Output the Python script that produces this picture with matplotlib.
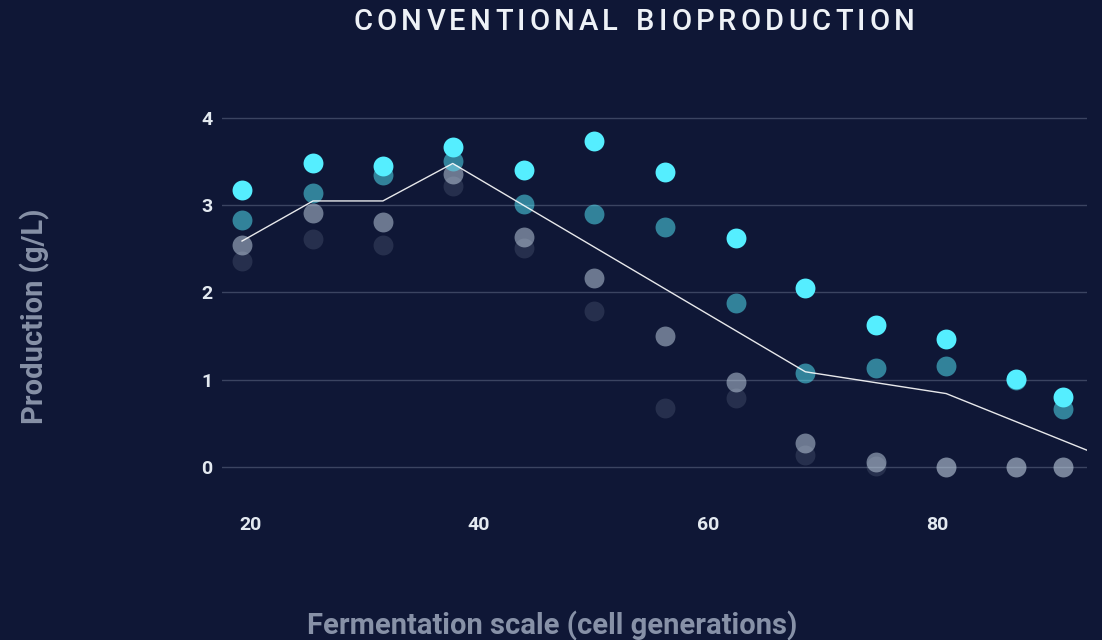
import matplotlib
matplotlib.use('Agg')
import matplotlib.pyplot as plt
from matplotlib.font_manager import FontProperties

# generations (x) and production in g/L for the four runs
gens = [19.3, 25.5, 31.6, 37.7, 43.9, 50.0, 56.2, 62.4, 68.5, 74.7, 80.8, 86.9, 91.0]
run_a = [3.17, 3.48, 3.45, 3.67, 3.40, 3.74, 3.38, 2.63, 2.05, 1.63, 1.47, 1.01, 0.80]
run_b = [2.83, 3.14, 3.35, 3.51, 3.01, 2.90, 2.75, 1.88, 1.08, 1.13, 1.16, 0.99, 0.66]
run_c = [2.55, 2.91, 2.81, 3.36, 2.64, 2.17, 1.50, 0.97, 0.27, 0.05, 0.0, 0.0, 0.0]
run_d = [2.36, 2.61, 2.55, 3.22, 2.51, 1.79, 0.68, 0.79, 0.13, 0.01, 0.0, 0.0, 0.0]

# trend line vertices
trend_x = [19.3, 25.5, 31.6, 37.7, 68.5, 80.8, 93.1]
trend_y = [2.59, 3.05, 3.05, 3.48, 1.09, 0.84, 0.19]

xticks = [20, 40, 60, 80]
yticks = [0, 1, 2, 3, 4]

bg = '#0f1736'
cyan = '#55eeff'
pale = '#c8d8e8'
label_col = '#8791a7'
tick_col = '#e3e9f0'
font = 'Roboto'

W, H = 1102, 640
fig = plt.figure(figsize=(W / 100, H / 100), dpi=100, facecolor=bg)
ax = fig.add_axes([222 / W, 1 - 506 / H, (1087 - 222) / W, (506 - 92) / H])
ax.set_facecolor(bg)

ax.set_xlim(17.55, 93.1)
ax.set_ylim(-0.45, 4.3)

for yv in yticks:
    ax.axhline(yv, color='#3b4461', lw=1, zorder=0)

ms = 205
ax.scatter(gens, run_d, s=ms, color=pale, alpha=0.13, lw=0, zorder=2)
ax.scatter(gens, run_c, s=ms, color=pale, alpha=0.5, lw=0, zorder=3)
ax.scatter(gens, run_b, s=ms, color=cyan, alpha=0.5, lw=0, zorder=4)
ax.scatter(gens, run_a, s=ms, color=cyan, alpha=1.0, lw=0, zorder=5)
ax.plot(trend_x, trend_y, color='white', lw=1, alpha=0.9, zorder=6)

for s in ax.spines.values():
    s.set_visible(False)
ax.set_xticks(xticks)
ax.set_yticks(yticks)
ax.tick_params(length=0, labelcolor=tick_col, labelsize=14)
ax.tick_params(axis='x', pad=7)
ax.tick_params(axis='y', pad=7)
for lab in ax.get_xticklabels() + ax.get_yticklabels():
    lab.set_fontfamily(font)
    lab.set_fontweight('bold')

fig.text(552 / W, 1 - 634 / H, 'Fermentation scale (cell generations)', ha='center', va='baseline',
         color=label_col, fontsize=21, fontweight='bold', family=font)
fig.text(35 / W, 1 - 316 / H, 'Production (g/L)', ha='center', va='center', rotation=90,
         color=label_col, fontsize=21, fontweight='bold', family=font)

# letter-spaced title, placed one character at a time
title = 'CONVENTIONAL BIOPRODUCTION'
fp = FontProperties(family=font, size=21, weight='medium')
r = fig.canvas.get_renderer()
spacing = 4.2
widths = []
for ch in title:
    if ch == ' ':
        widths.append(r.get_text_width_height_descent('n', fp, ismath=False)[0] * 0.6)
    else:
        widths.append(r.get_text_width_height_descent(ch, fp, ismath=False)[0])
total = sum(widths) + spacing * (len(title) - 1)
x = 634 - total / 2
for ch, w in zip(title, widths):
    fig.text(x / W, 1 - 22 / H, ch, ha='left', va='center', color='#eef2f7', fontproperties=fp)
    x += w + spacing

fig.savefig('out.png', dpi=100, facecolor=bg)
